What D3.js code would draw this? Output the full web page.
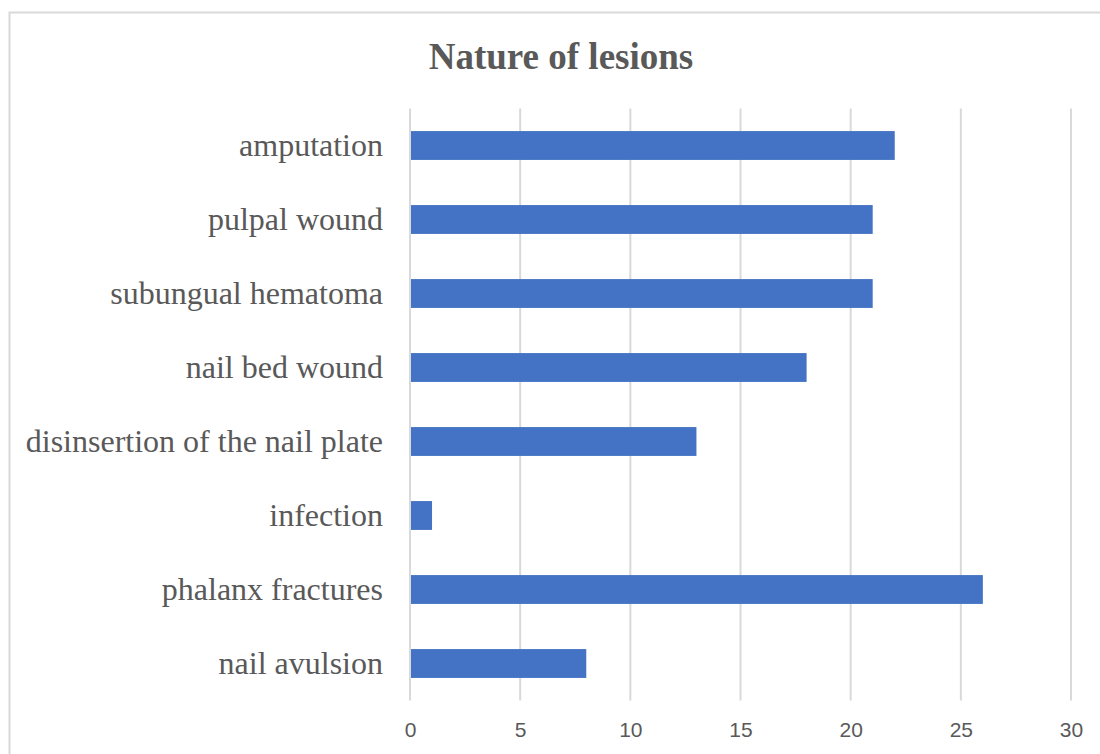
<!DOCTYPE html>
<html>
<head>
<meta charset="utf-8">
<script src="https://cdn.jsdelivr.net/npm/d3@7"></script>
<style>
  body { margin: 0; background: #fff; }
</style>
</head>
<body>
<svg id="chart"></svg>
<script>
const width = 1100;
const height = 754;

// data, top to bottom
const categories = ["amputation", "pulpal wound", "subungual hematoma", "nail bed wound",
  "disinsertion of the nail plate", "infection", "phalanx fractures", "nail avulsion"];
const values = [22, 21, 21, 18, 13, 1, 26, 8];
const xTicks = [0, 5, 10, 15, 20, 25, 30];

const margin = {top: 108.5, right: 29, bottom: 53.5, left: 410};

let svg = d3.select("#chart")
  .attr("width", width)
  .attr("height", height);

// chart frame
svg.append("rect")
  .attr("x", 9.5)
  .attr("y", 12.5)
  .attr("width", 1100)
  .attr("height", 760)
  .style("fill", "none")
  .style("stroke", "#d9d9d9")
  .style("stroke-width", 2);

const x = d3.scaleLinear()
  .domain([0, 30])
  .range([margin.left, width - margin.right]);

const y = d3.scaleBand()
  .domain(categories)
  .range([margin.top, height - margin.bottom])
  .paddingInner(0.61)
  .paddingOuter(0.305);

// grid lines
svg.append("g")
  .selectAll("line")
  .data(xTicks)
  .join("line")
  .attr("x1", d => x(d))
  .attr("x2", d => x(d))
  .attr("y1", margin.top)
  .attr("y2", height - margin.bottom)
  .style("stroke", "#d9d9d9")
  .style("stroke-width", 2);

// bars
svg.append("g")
  .selectAll("rect")
  .data(values)
  .join("rect")
  .attr("x", x(0) + 1)
  .attr("y", (d, i) => y(categories[i]))
  .attr("width", d => x(d) - x(0) - 1)
  .attr("height", y.bandwidth())
  .style("fill", "#4472c4");

// x axis labels
const xAxis = d3.axisBottom(x).tickValues(xTicks).tickSize(0).tickPadding(0);
svg.append("g")
  .attr("transform", `translate(0, ${height - margin.bottom + 22})`)
  .call(xAxis)
  .call(g => g.select(".domain").remove())
  .call(g => g.selectAll("text")
    .style("font-family", "'Liberation Sans', Arial, sans-serif")
    .style("font-size", "21px")
    .style("fill", "#595959"));

// category labels
const yAxis = d3.axisLeft(y).tickSize(0).tickPadding(27);
svg.append("g")
  .attr("transform", `translate(${margin.left}, 0)`)
  .call(yAxis)
  .call(g => g.select(".domain").remove())
  .call(g => g.selectAll("text")
    .style("font-family", "'Liberation Serif', 'Times New Roman', serif")
    .style("font-size", "32px")
    .style("fill", "#595959"));

// title
svg.append("text")
  .attr("x", 561)
  .attr("y", 69)
  .attr("text-anchor", "middle")
  .style("font-family", "'Liberation Serif', 'Times New Roman', serif")
  .style("font-weight", "bold")
  .style("font-size", "37px")
  .style("fill", "#595959")
  .text("Nature of lesions");
</script>
</body>
</html>
